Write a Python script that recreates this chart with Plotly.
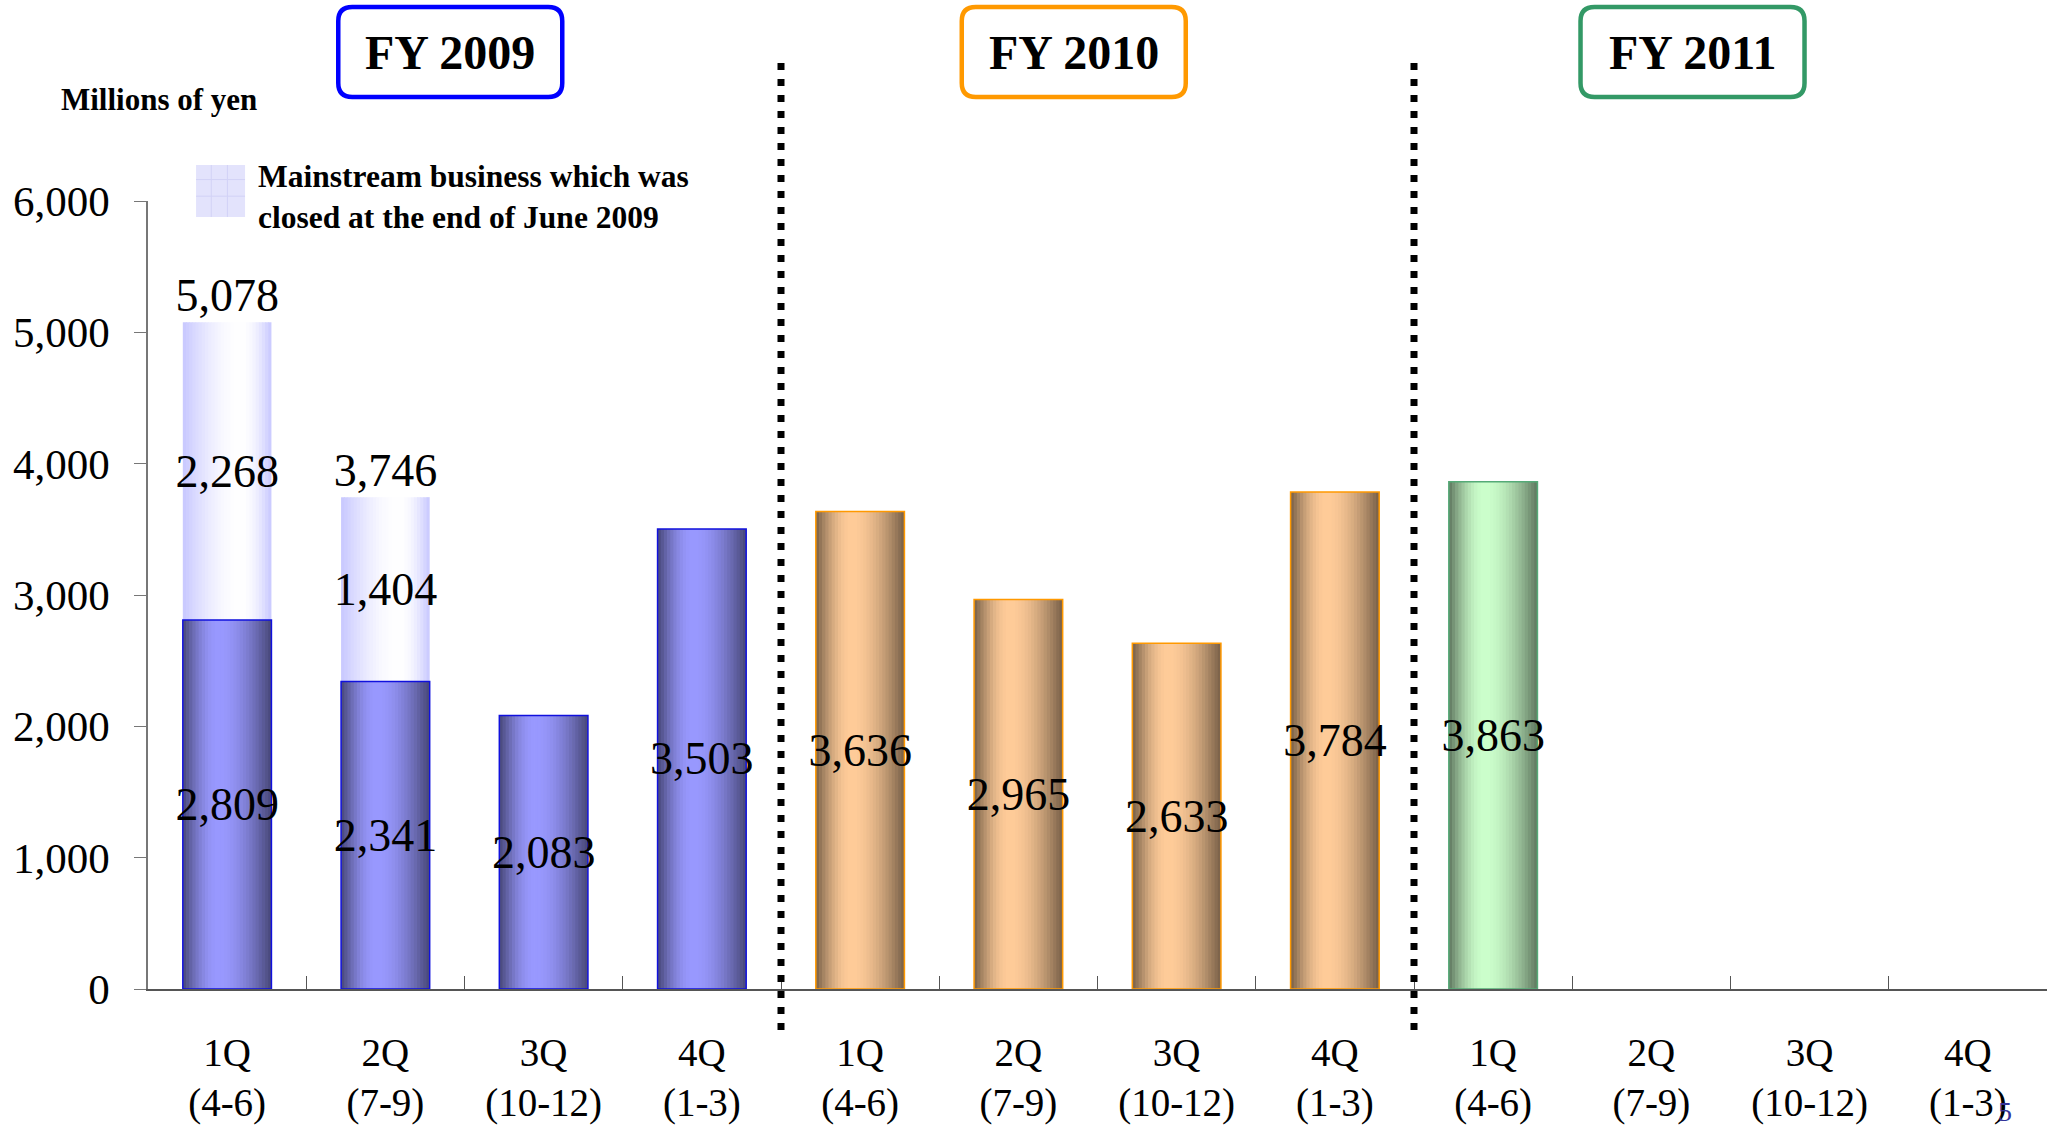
import math
import plotly.graph_objects as go

# ---------------- data ----------------
quarters = ["1Q", "2Q", "3Q", "4Q", "1Q", "2Q", "3Q", "4Q", "1Q", "2Q", "3Q", "4Q"]
months = ["(4-6)", "(7-9)", "(10-12)", "(1-3)", "(4-6)", "(7-9)", "(10-12)", "(1-3)",
          "(4-6)", "(7-9)", "(10-12)", "(1-3)"]
fiscal_years = ["FY 2009", "FY 2009", "FY 2009", "FY 2009",
                "FY 2010", "FY 2010", "FY 2010", "FY 2010",
                "FY 2011", "FY 2011", "FY 2011", "FY 2011"]
continuing = [2809, 2341, 2083, 3503, 3636, 2965, 2633, 3784, 3863, None, None, None]
closed = [2268, 1404, None, None, None, None, None, None, None, None, None, None]
totals = [5078, 3746, None, None, None, None, None, None, None, None, None, None]
fy_titles = ["FY 2009", "FY 2010", "FY 2011"]
legend_text = "Mainstream business which was<br>closed at the end of June 2009"
y_title = "Millions of yen"

# ---------------- styling ----------------
FONT = "Liberation Serif, Times New Roman, serif"
peak_colors = {"FY 2009": (153, 153, 255), "FY 2010": (255, 204, 153), "FY 2011": (204, 255, 204)}
edge_colors = {"FY 2009": "#1010dd", "FY 2010": "#ff9900", "FY 2011": "#55aa77"}
box_colors = {"FY 2009": "#0000ff", "FY 2010": "#ff9900", "FY 2011": "#339966"}
box_x = {"FY 2009": 1.41, "FY 2010": 5.35, "FY 2011": 9.26}
light_edge = (200, 200, 255)

cats = [f"{fy} {q}" for fy, q in zip(fiscal_years, quarters)]
ticktext = [f"{q}<br>{m}" for q, m in zip(quarters, months)]

W = 0.56
N = 28


def profile(t, p):
    if t < p:
        return math.sin(t / p * math.pi / 2)
    return math.cos((t - p) / (1 - p) * math.pi / 2)


def dark_color(fy, t):
    f = 0.47 + 0.53 * profile(t, 0.40)
    r, g, b = peak_colors[fy]
    return f"rgb({int(r*f)},{int(g*f)},{int(b*f)})"


def light_color(t):
    w = profile(t, 0.66)
    r, g, b = light_edge
    return f"rgb({int(r+(255-r)*w)},{int(g+(255-g)*w)},{int(b+(255-b)*w)})"


fig = go.Figure()
sw = W / N
for i in range(N):
    t = (i + 0.5) / N
    wid = sw * (1.25 if i < N - 1 else 1.0)
    fig.add_trace(go.Bar(
        x=cats, y=continuing, offset=-W / 2 + i * sw, width=wid,
        marker=dict(color=[dark_color(fy, t) for fy in fiscal_years], line=dict(width=0)),
        hoverinfo="skip", showlegend=False))
    fig.add_trace(go.Bar(
        x=cats, y=closed, base=[c if c is not None else 0 for c in continuing],
        offset=-W / 2 + i * sw, width=wid,
        marker=dict(color=light_color(t), line=dict(width=0)),
        hoverinfo="skip", showlegend=False))

# outlines + value labels
fig.add_trace(go.Bar(
    x=cats, y=continuing, width=W,
    marker=dict(color="rgba(0,0,0,0)", line=dict(color=[edge_colors[f] for f in fiscal_years], width=1.5)),
    text=[f"{v:,}" if v is not None else "" for v in continuing], texttemplate="%{text}",
    textposition="inside", insidetextanchor="middle", constraintext="none", textangle=0,
    insidetextfont=dict(family=FONT, size=46, color="black"), showlegend=False))
fig.add_trace(go.Bar(
    x=cats, y=closed, base=[c if c is not None else 0 for c in continuing], width=W,
    marker=dict(color="rgba(0,0,0,0)", line=dict(width=0)),
    text=[f"{v:,}" if v is not None else "" for v in closed], texttemplate="%{text}",
    textposition="inside", insidetextanchor="middle", constraintext="none", textangle=0,
    insidetextfont=dict(family=FONT, size=46, color="black"), showlegend=False))
fig.add_trace(go.Scatter(
    x=cats, y=totals, mode="text",
    text=[f"{v:,}" if v is not None else "" for v in totals],
    textposition="top center", textfont=dict(family=FONT, size=46, color="black"),
    showlegend=False, hoverinfo="skip", cliponaxis=False))

shapes = []
# dotted year separators
for xb in (3.5, 7.5):
    shapes.append(dict(type="line", xref="x", yref="paper", x0=xb, x1=xb, y0=-0.052, y1=1.18,
                       line=dict(color="black", width=7, dash="7px,9px")))

# rounded boxes for FY titles
hw, hh, r = 112, 45, 14
path = (f"M {-hw+r},{-hh} L {hw-r},{-hh} Q {hw},{-hh} {hw},{-hh+r} L {hw},{hh-r} "
        f"Q {hw},{hh} {hw-r},{hh} L {-hw+r},{hh} Q {-hw},{hh} {-hw},{hh-r} "
        f"L {-hw},{-hh+r} Q {-hw},{-hh} {-hw+r},{-hh} Z")
annotations = []
for fy in fy_titles:
    shapes.append(dict(type="path", xref="x", yref="paper", xsizemode="pixel", ysizemode="pixel",
                       xanchor=box_x[fy], yanchor=1.189, path=path,
                       line=dict(color=box_colors[fy], width=4.5), fillcolor="white"))
    annotations.append(dict(x=box_x[fy], y=1.189, xref="x", yref="paper", text=f"<b>{fy}</b>",
                            showarrow=False, font=dict(family=FONT, size=48, color="black"),
                            xanchor="center", yanchor="middle"))

# legend swatch
lx0, lx1, ly0, ly1 = 0.0253, 0.0511, 0.9797, 1.0457
shapes.append(dict(type="rect", xref="paper", yref="paper", x0=lx0, x1=lx1, y0=ly0, y1=ly1,
                   fillcolor="#e3e3fc", line=dict(width=0)))
for fr in (0.31, 0.64):
    xv = lx0 + (lx1 - lx0) * fr
    shapes.append(dict(type="line", xref="paper", yref="paper", x0=xv, x1=xv, y0=ly0, y1=ly1,
                       line=dict(color="#d2d2f6", width=1)))
for fr in (0.40, 0.72):
    yv = ly0 + (ly1 - ly0) * fr
    shapes.append(dict(type="line", xref="paper", yref="paper", x0=lx0, x1=lx1, y0=yv, y1=yv,
                       line=dict(color="#d2d2f6", width=1)))
annotations.append(dict(x=0.0569, y=1.005, xref="paper", yref="paper", text=f"<b>{legend_text}</b>",
                        showarrow=False, align="left", xanchor="left", yanchor="middle",
                        font=dict(family=FONT, size=31.5, color="black")))
annotations.append(dict(x=-0.0469, y=1.129, xref="paper", yref="paper", text=f"<b>{y_title}</b>",
                        showarrow=False, xanchor="left", yanchor="middle",
                        font=dict(family=FONT, size=31, color="black")))
annotations.append(dict(x=0.978, y=-0.133, xref="paper", yref="paper", text="5",
                        showarrow=False, xanchor="center", yanchor="top",
                        font=dict(family=FONT, size=28, color="#333399")))

fig.update_layout(
    width=2051, height=1125,
    margin=dict(l=148, r=4, t=201, b=136, autoexpand=False),
    paper_bgcolor="white", plot_bgcolor="white",
    barmode="overlay", bargap=0.44,
    showlegend=False,
    shapes=shapes, annotations=annotations,
    font=dict(family=FONT, color="black"),
    xaxis=dict(type="category", categoryorder="array", categoryarray=cats,
               tickmode="array", tickvals=cats, ticktext=ticktext,
               tickson="boundaries", ticks="inside", ticklen=13, tickcolor="#555",
               showline=True, linecolor="#555", linewidth=1.5, showgrid=False,
               tickfont=dict(family=FONT, size=39, color="black"),
               ticklabelstandoff=28, range=[-0.5, 11.5], automargin=False),
    yaxis=dict(range=[0, 6000], dtick=1000, tickformat=",", showgrid=False, zeroline=False,
               showline=True, linecolor="#777", linewidth=1.5, ticks="outside", ticklen=12,
               tickcolor="#777", tickfont=dict(family=FONT, size=43, color="black"),
               ticklabelstandoff=16, automargin=False),
)

fig.write_html("out.html")
